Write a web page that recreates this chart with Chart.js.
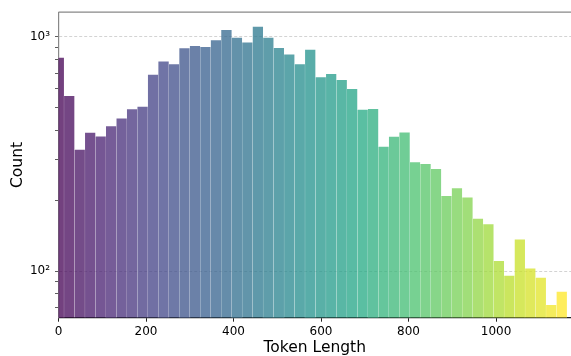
<!DOCTYPE html>
<html>
<head>
<meta charset="utf-8">
<script src="https://cdn.jsdelivr.net/npm/chart.js"></script>
<style>
html, body { margin: 0; padding: 0; background: #fff; }
#wrap { width: 571px; height: 356px; position: relative; }
</style>
</head>
<body>
<div id="wrap"><canvas id="hist"></canvas></div>
<script>
// histogram bins (token length) and counts
var binEdges = [-11.35, 12.6, 36.55, 60.5, 84.45, 108.4, 132.35, 156.3, 180.25, 204.2,
	228.15, 252.1, 276.05, 300, 323.95, 347.9, 371.85, 395.8, 419.75, 443.7,
	467.65, 491.6, 515.55, 539.5, 563.45, 587.4, 611.35, 635.3, 659.25, 683.2,
	707.15, 731.1, 755.05, 779, 802.95, 826.9, 850.85, 874.8, 898.75, 922.7,
	946.65, 970.6, 994.55, 1018.5, 1042.45, 1066.4, 1090.35, 1114.3, 1138.25, 1162.2];
var counts = [819, 562, 331, 391, 377, 417, 450, 493, 505, 693,
	788, 767, 898, 919, 910, 971, 1075, 997, 952, 1111,
	997, 901, 845, 767, 886, 675, 698, 658, 602, 491,
	494, 341, 376, 392, 293, 288, 274, 210, 227, 207,
	168, 159, 111, 96, 137, 103, 94, 72, 82];
var xTicks = [0, 200, 400, 600, 800, 1000];
var yTicks = [70, 80, 90, 100, 200, 300, 400, 500, 600, 700, 800, 900, 1000];
var yLabels = { 100: '10\u00b2', 1000: '10\u00b3' };

// viridis colour stops
var viridis = ['#440154', '#482475', '#414487', '#355f8d', '#2a788e', '#21918c',
	'#22a884', '#44bf70', '#7ad151', '#bddf26', '#fde725'];

function hexRgb(h) {
	return [parseInt(h.substr(1, 2), 16), parseInt(h.substr(3, 2), 16), parseInt(h.substr(5, 2), 16)];
}
function viridisAt(t, alpha) {
	var p = t * (viridis.length - 1);
	var i = Math.min(Math.floor(p), viridis.length - 2);
	var f = p - i;
	var a = hexRgb(viridis[i]), b = hexRgb(viridis[i + 1]);
	var c = a.map(function(v, k) { return Math.round(v + (b[k] - v) * f); });
	return 'rgba(' + c[0] + ',' + c[1] + ',' + c[2] + ',' + alpha + ')';
}

var points = counts.map(function(c, i) {
	return { x: (binEdges[i] + binEdges[i + 1]) / 2, y: c };
});
var colors = counts.map(function(c, i) { return viridisAt(i / (counts.length - 1), 0.75); });

var topSpine = {
	id: 'topSpine',
	afterDraw: function(chart) {
		var a = chart.chartArea, ctx = chart.ctx;
		ctx.save();
		ctx.strokeStyle = '#888';
		ctx.lineWidth = 1.2;
		ctx.beginPath();
		ctx.moveTo(a.left, a.top);
		ctx.lineTo(a.right, a.top);
		ctx.stroke();
		ctx.restore();
	}
};

var font = 'DejaVu Sans';

new Chart(document.getElementById('hist'), {
	type: 'bar',
	data: {
		datasets: [{
			data: points,
			backgroundColor: colors,
			borderColor: 'rgba(255,255,255,0.25)',
			borderWidth: { top: 0.8, left: 0.4, right: 0.4, bottom: 0 },
			barPercentage: 1,
			categoryPercentage: 1,
			grouped: false
		}]
	},
	options: {
		responsive: true,
		maintainAspectRatio: false,
		animation: false,
		layout: { padding: { top: 12, left: 0, right: 0, bottom: 0 } },
		plugins: { legend: { display: false }, tooltip: { enabled: false } },
		scales: {
			x: {
				type: 'linear',
				min: 0,
				max: 1171.4,
				offset: false,
				afterFit: function(s) { s.height = 38.3; },
				afterBuildTicks: function(s) { s.ticks = xTicks.map(function(v) { return { value: v }; }); },
				ticks: {
					color: '#000',
					font: { family: font, size: 12 },
					padding: 3,
					maxRotation: 0,
					callback: function(v) { return String(v); }
				},
				grid: { display: true, offset: false, drawOnChartArea: false, tickLength: 4, tickColor: '#222' },
				border: { color: '#222', width: 1.2 },
				title: {
					display: true,
					text: 'Token Length',
					color: '#000',
					font: { family: font, size: 15.5, lineHeight: 1 },
					padding: { top: 0, bottom: 0 }
				}
			},
			y: {
				type: 'logarithmic',
				min: 63.2,
				max: 1275,
				afterFit: function(s) { s.width = 58.5; },
				afterBuildTicks: function(s) { s.ticks = yTicks.map(function(v) { return { value: v }; }); },
				ticks: {
					color: '#000',
					font: { family: font, size: 12 },
					padding: 5,
					autoSkip: false,
					callback: function(v) { return yLabels[v] || ''; }
				},
				grid: {
					tickLength: 3.5,
					tickColor: '#333',
					lineWidth: 0.8,
					color: function(c) { return (c.tick && yLabels[c.tick.value]) ? 'rgba(0,0,0,0.22)' : 'rgba(0,0,0,0)'; }
				},
				border: { color: '#888', width: 1.2, dash: [3, 2] },
				title: {
					display: true,
					text: 'Count',
					color: '#000',
					font: { family: font, size: 15.5 },
					padding: { top: 8.5, bottom: 0 }
				}
			}
		}
	},
	plugins: [topSpine]
});
</script>
</body>
</html>
